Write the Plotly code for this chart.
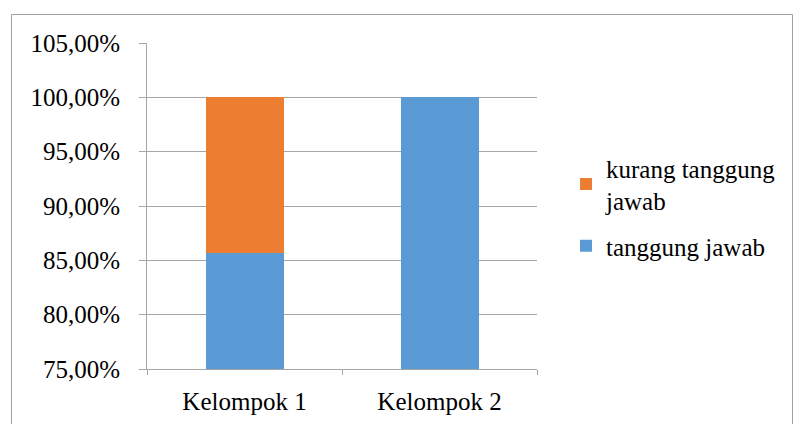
import plotly.graph_objects as go

# Data
categories = ["Kelompok 1", "Kelompok 2"]
tanggung_jawab = [85.71, 100.0]
kurang_tanggung_jawab = [14.29, 0.0]
y_ticks = [75, 80, 85, 90, 95, 100, 105]
y_tick_labels = [f"{v:.2f}".replace(".", ",") + "%" for v in y_ticks]

W, H = 793, 424
L, R, T, B = 147, 256, 43, 55
pw, ph = W - L - R, H - T - B

def px_x(x):
    return (x - L) / pw

def px_y(y):
    return 1 - (y - T) / ph

FAMILY = "Times New Roman, Liberation Serif, DejaVu Serif, serif"
SIZE = 25
GRID = "#a6a6a6"

def font(size=SIZE):
    return dict(family=FAMILY, size=size, color="black")

fig = go.Figure()
fig.add_trace(go.Bar(
    x=categories, y=tanggung_jawab, name="tanggung jawab",
    legendgroup="tj", legendrank=2,
    marker=dict(color="#5B9BD5", line=dict(width=0)),
))
fig.add_trace(go.Bar(
    x=categories, y=kurang_tanggung_jawab, name="kurang tanggung<br>jawab",
    legendgroup="ktj", legendrank=1,
    marker=dict(color="#ED7D31", line=dict(width=0)),
))

fig.update_layout(
    width=W, height=H,
    margin=dict(l=L, r=R, t=T, b=B, pad=0, autoexpand=False),
    barmode="stack", bargap=0.6,
    paper_bgcolor="white", plot_bgcolor="white",
    font=font(),
    showlegend=True,
    legend=dict(
        x=px_x(566), y=px_y(145), xanchor="left", yanchor="top",
        traceorder="grouped", font=font(),
        itemwidth=30, tracegroupgap=10, bgcolor="rgba(0,0,0,0)",
    ),
    xaxis=dict(
        showline=True, linecolor=GRID, linewidth=1,
        ticks="outside", tickson="boundaries", ticklen=5, tickcolor=GRID,
        showgrid=False, ticklabelstandoff=10, automargin=False,
        tickfont=font(),
    ),
    yaxis=dict(
        range=[75, 105], tickmode="array", tickvals=y_ticks, ticktext=y_tick_labels,
        showline=True, linecolor=GRID, linewidth=1,
        ticks="outside", ticklen=7, tickcolor=GRID,
        showgrid=True, gridcolor=GRID, gridwidth=1,
        zeroline=False, ticklabelstandoff=14, automargin=False,
        tickfont=font(),
    ),
    shapes=[
        # outer chart frame
        dict(type="rect", xref="paper", yref="paper",
             x0=px_x(11.5), x1=px_x(792.5), y0=px_y(430), y1=px_y(14.5),
             line=dict(color="#a0a0a0", width=1), fillcolor="rgba(0,0,0,0)",
             layer="below"),
    ],
)

fig.write_html("out.html")
